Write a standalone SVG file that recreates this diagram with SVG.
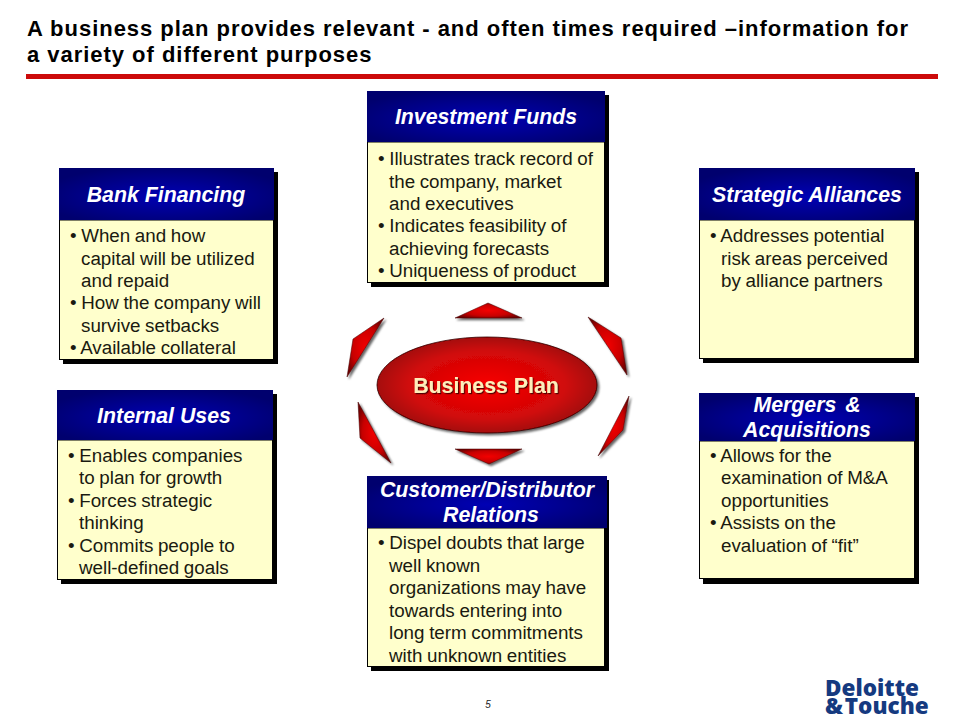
<svg xmlns="http://www.w3.org/2000/svg" width="960" height="720" viewBox="0 0 960 720">
<style>
text{font-family:"Liberation Sans",Arial,sans-serif}
.title{font-size:22px;font-weight:700;fill:#000;letter-spacing:.97px}
.head{font-size:21.3px;font-weight:700;font-style:italic;fill:#fff;text-anchor:middle}
.b{font-size:18.8px;word-spacing:-.6px;fill:#1a1a10}
.sh{fill:#000}
.hd{fill:url(#blue)}
.bd{fill:#ffffcc;stroke:#000;stroke-width:1}
.ar{fill:url(#red);stroke:#400;stroke-width:.5;filter:url(#ds)}
.logo{font-family:"Open Sans","Liberation Sans",sans-serif;font-size:22.5px;font-weight:800;fill:#153a80}
</style>
<defs>
<radialGradient id="blue" cx=".5" cy=".55" r=".6"><stop offset="0" stop-color="#0000b4"/><stop offset="1" stop-color="#00006e"/></radialGradient>
<radialGradient id="red" cx=".5" cy=".5" r=".6"><stop offset="0" stop-color="#f20000"/><stop offset=".6" stop-color="#c80000"/><stop offset="1" stop-color="#6a0000"/></radialGradient>
<radialGradient id="redE" cx=".5" cy=".5" r=".55"><stop offset="0" stop-color="#f80000"/><stop offset=".65" stop-color="#d00808"/><stop offset="1" stop-color="#960808"/></radialGradient>
<filter id="ds" x="-30%" y="-30%" width="170%" height="170%"><feDropShadow dx="2" dy="2" stdDeviation=".8" flood-color="#000" flood-opacity=".6"/></filter>
<filter id="ts" x="-10%" y="-30%" width="120%" height="170%"><feDropShadow dx="1.2" dy="1.2" stdDeviation=".4" flood-color="#400" flood-opacity=".9"/></filter>
</defs>
<rect width="960" height="720" fill="#fff"/>
<g id="title">
<text class="title" x="27" y="36">A business plan provides relevant - and often times required –information for</text>
<text class="title" x="27" y="62">a variety of different purposes</text>
<rect x="26" y="74" width="912" height="5" fill="#cc0a0a"/>
</g>
<g id="connectors">
<polygon class="ar" points="455,318 488,303 522,318"/>
<polygon class="ar" points="384,318 353,339 347,377"/>
<polygon class="ar" points="588,317 621,338 627,375"/>
<polygon class="ar" points="629,396 623,430 598,456"/>
<polygon class="ar" points="358,402 360,438 391,463"/>
<polygon class="ar" points="455,449 489,464 522,449"/>
</g>
<g id="business-plan">
<ellipse cx="487" cy="385" rx="110" ry="48" fill="url(#redE)" stroke="#300" stroke-width=".8" filter="url(#ds)"/>
<text x="486" y="393" font-size="21.3" font-weight="700" fill="#ffeebb" text-anchor="middle" filter="url(#ts)">Business Plan</text>
</g>
<g id="investment-funds">
<rect class="sh" x="371" y="95" width="238" height="192"/>
<rect class="bd" x="367.5" y="142" width="237" height="140.500"/>
<rect class="hd" x="367" y="91" width="238" height="51"/>
<text class="head" x="486" y="124">Investment Funds</text>
<text class="b" x="378" y="165">• Illustrates track record of</text>
<text class="b" x="389" y="188">the company, market</text>
<text class="b" x="389" y="210">and executives</text>
<text class="b" x="378" y="232">• Indicates feasibility of</text>
<text class="b" x="389" y="255">achieving forecasts</text>
<text class="b" x="378" y="277">• Uniqueness of product</text>
</g>
<g id="bank-financing">
<rect class="sh" x="63" y="172" width="215" height="192"/>
<rect class="bd" x="59.500" y="220" width="214" height="139.500"/>
<rect class="hd" x="59" y="168" width="215" height="52"/>
<text class="head" x="166" y="202">Bank Financing</text>
<text class="b" x="70" y="242">• When and how</text>
<text class="b" x="81" y="265">capital will be utilized</text>
<text class="b" x="81" y="287">and repaid</text>
<text class="b" x="70" y="309">• How the company will</text>
<text class="b" x="81" y="332">survive setbacks</text>
<text class="b" x="70" y="354">• Available collateral</text>
</g>
<g id="strategic-alliances">
<rect class="sh" x="703" y="172" width="216" height="191"/>
<rect class="bd" x="699.500" y="220" width="215" height="138.500"/>
<rect class="hd" x="699" y="168" width="216" height="52"/>
<text class="head" x="807" y="202">Strategic Alliances</text>
<text class="b" x="710" y="242">• Addresses potential</text>
<text class="b" x="721" y="265">risk areas perceived</text>
<text class="b" x="721" y="287">by alliance partners</text>
</g>
<g id="internal-uses">
<rect class="sh" x="61" y="394" width="216" height="190"/>
<rect class="bd" x="57.500" y="440" width="215" height="139.500"/>
<rect class="hd" x="57" y="390" width="216" height="50"/>
<text class="head" x="164" y="423">Internal Uses</text>
<text class="b" x="68" y="462">• Enables companies</text>
<text class="b" x="79" y="484">to plan for growth</text>
<text class="b" x="68" y="507">• Forces strategic</text>
<text class="b" x="79" y="529">thinking</text>
<text class="b" x="68" y="552">• Commits people to</text>
<text class="b" x="79" y="574">well-defined goals</text>
</g>
<g id="mergers-acquisitions">
<rect class="sh" x="703" y="397" width="216" height="187"/>
<rect class="bd" x="699.500" y="441" width="215" height="137.500"/>
<rect class="hd" x="699" y="393" width="216" height="48"/>
<text class="head" x="807" y="412" word-spacing="3">Mergers &amp;</text>
<text class="head" x="807" y="437">Acquisitions</text>
<text class="b" x="710" y="462">• Allows for the</text>
<text class="b" x="721" y="484">examination of M&amp;A</text>
<text class="b" x="721" y="507">opportunities</text>
<text class="b" x="710" y="529">• Assists on the</text>
<text class="b" x="721" y="552">evaluation of “fit”</text>
</g>
<g id="customer-distributor">
<rect class="sh" x="371" y="480" width="238" height="191"/>
<rect class="bd" x="367.500" y="528" width="237" height="138.500"/>
<rect class="hd" x="367" y="476" width="240" height="52"/>
<text class="head" x="487" y="497">Customer/Distributor</text>
<text class="head" x="491" y="522">Relations</text>
<text class="b" x="378" y="549">• Dispel doubts that large</text>
<text class="b" x="389" y="572">well known</text>
<text class="b" x="389" y="594">organizations may have</text>
<text class="b" x="389" y="617">towards entering into</text>
<text class="b" x="389" y="639">long term commitments</text>
<text class="b" x="389" y="662">with unknown entities</text>
</g>
<g id="footer">
<text x="488" y="708" font-size="10" font-style="italic" fill="#222" text-anchor="middle">5</text>
<text class="logo" x="825" y="696">Deloitte</text>
<text class="logo" x="825" y="714" word-spacing="-4">&amp; Touche</text>
</g>
</svg>
